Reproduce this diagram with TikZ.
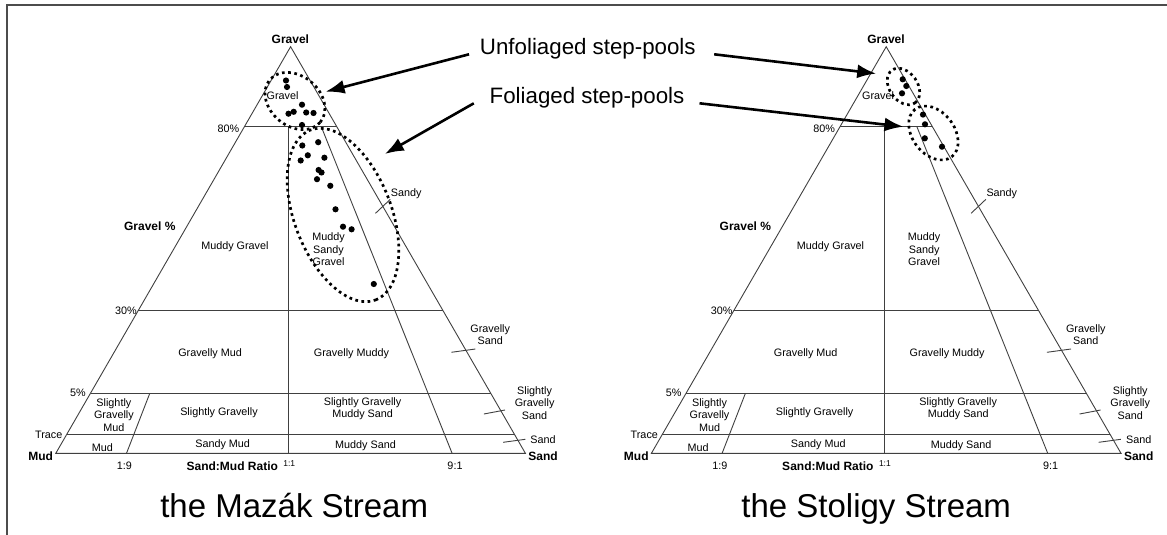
\documentclass[tikz,border=0pt]{standalone}
\usepackage{fontspec}
\setmainfont{Liberation Sans}
\usepackage{tikz}
\usetikzlibrary{arrows.meta}
\usetikzlibrary{shapes.geometric,calc}
\tikzset{>={Latex[width=14pt,length=19pt]}}
\tikzset{
  grid/.style={draw=black!75, line width=0.9pt},
  frame/.style={draw=black!70, line width=2pt},
  zone/.style={font=\fontsize{10.8}{12.5}\selectfont, align=center, inner sep=0pt},
  corner/.style={font=\bfseries\fontsize{12}{13}\selectfont, inner sep=0pt},
  callout/.style={font=\fontsize{22.3}{26}\selectfont, inner sep=0pt, anchor=base},
  stream/.style={font=\fontsize{33}{38}\selectfont, inner sep=0pt, anchor=base},
  cluster/.style={ellipse, draw, line width=2.7pt, dash pattern=on 2.7pt off 3.5pt, inner sep=0pt},
  pointer/.style={->, line width=2.6pt},
}

\begin{document}
\begin{tikzpicture}[x=1pt,y=-1pt]

\useasboundingbox (0,0) rectangle (1167,535);
\draw[frame] (6.5,535) -- (6.5,5) -- (1167,5);

\newcommand\ternary[1]{
\coordinate (#1-apex) at (290.6,46.7);
\coordinate (#1-mud)  at (55.8,453.3);
\coordinate (#1-sand) at (525.4,453.3);
\draw[grid] (#1-mud) -- (#1-apex) -- (#1-sand) -- cycle;
\draw[grid] ($(#1-apex)!.197!(#1-mud)$) -- ($(#1-apex)!.197!(#1-sand)$); %% 80%
\draw[grid] ($(#1-apex)!.649!(#1-mud)$) -- ($(#1-apex)!.649!(#1-sand)$); %% 30%
\draw[grid] ($(#1-apex)!.852!(#1-mud)$) -- ($(#1-apex)!.852!(#1-sand)$); %% 5%
\draw[grid] ($(#1-apex)!.953!(#1-mud)$) -- ($(#1-apex)!.953!(#1-sand)$); %% trace
\draw[grid] (288.5,126.7) -- (288.5,453.3); %% 1:1
\draw[grid] (321.3,126.7) -- (452.1,453.3); %% 9:1
\draw[grid] (149.8,393.3) -- (126.5,453.3); %% 1:9
\draw[grid] (375.5,213.3) -- (390.3,199.3);
\draw[grid] (451.3,352.3) -- (475.4,349);
\draw[grid] (483.9,414)   -- (505,410);
\draw[grid] (503.1,442.3) -- (525.3,439.3);

\node[corner] (#1-top)   at (290.4,39.3)  {Gravel};
\node[corner] (#1-left)  at (40.7,456.7)  {Mud};
\node[corner] (#1-right) at (543.1,456.7) {Sand};
\node[corner] (#1-axis)  at (149.8,226.7) {Gravel \%};
\node[corner] (#1-ratio) at (232.3,466.7) {Sand:Mud Ratio};

\node[zone, anchor=east] (#1-p80)   at (239.5,129)  {80\%};
\node[zone, anchor=east] (#1-p30)   at (137,310.7)  {30\%};
\node[zone, anchor=east] (#1-p5)    at (86,393.3)   {5\%};
\node[zone, anchor=east] (#1-trace) at (62.5,435)   {Trace};
\node[zone] (#1-r19) at (124.3,466) {1:9};
\node[zone, font=\fontsize{8.5}{9}\selectfont] (#1-r11) at (289.3,463.5) {1:1};
\node[zone] (#1-r91) at (455,466)   {9:1};

\node[zone] (#1-g)    at (282.5,95.5)  {Gravel};
\node[zone] (#1-mg)   at (234.9,246.7) {Muddy Gravel};
\node[zone] (#1-msg)  at (328.5,249.5) {Muddy\\Sandy\\Gravel};
\node[zone] (#1-sg)   at (406.2,193.3) {Sandy};
\node[zone] (#1-gm)   at (210.1,353.3) {Gravelly Mud};
\node[zone] (#1-gmd)  at (351.5,353.3) {Gravelly Muddy};
\node[zone] (#1-gs)   at (490.2,334.5) {Gravelly\\Sand};
\node[zone] (#1-sgm)  at (113.9,414.7) {Slightly\\Gravelly\\Mud};
\node[zone] (#1-sgv)  at (219,412.7)   {Slightly Gravelly};
\node[zone] (#1-sgms) at (362.6,408.8) {Slightly Gravelly\\Muddy Sand};
\node[zone] (#1-sgs)  at (534.6,403)   {Slightly\\Gravelly\\Sand};
\node[zone] (#1-m)    at (102.5,447.3) {Mud};
\node[zone] (#1-sm)   at (222.7,445)   {Sandy Mud};
\node[zone] (#1-ms)   at (365.5,445.7) {Muddy Sand};
\node[zone] (#1-s)    at (543.1,440)   {Sand};
}

%% the Mazak Stream
\ternary{M}
\node[cluster, minimum width=66pt, minimum height=50pt, rotate=-40] (M-unfoliaged) at (295,101) {};
\node[cluster, minimum width=182pt, minimum height=97pt, rotate=-69] (M-foliaged) at (343,215) {};
\foreach \x/\y in {286/80.5, 287/87, 302/104.7, 288.5/113.7, 293.7/111.8, 306.2/112.5,
  313.5/113, 302/125, 302.3/145.5, 318.2/142.2, 307.8/155.3, 300.7/160.5, 324.4/157.7,
  318.6/170, 321.5/172.5, 317/179.2, 330.3/185.8, 335.5/209.3, 343/226.7, 351.6/229.3,
  373.8/284}
  \fill (\x,\y) circle (3.1);
\coordinate (M-tipU) at (325.6,91.7);
\coordinate (M-tipF) at (384.8,154);

%% the Stoligy Stream
\begin{scope}[xshift=595.6pt]
\ternary{S}
\end{scope}
\node[cluster, minimum width=40pt, minimum height=28pt, rotate=-55] (S-unfoliaged) at (903.5,86.5) {};
\node[cluster, minimum width=60pt, minimum height=42pt, rotate=-52.5] (S-foliaged) at (933.4,133) {};
\foreach \x/\y in {902.7/79.3, 906.3/86, 902/93.3, 923/114.6, 925/124.3, 924.8/138.3, 942/146.7}
  \fill (\x,\y) circle (3.1);
\coordinate (S-tipU) at (876.2,73.6);
\coordinate (S-tipF) at (903.5,126.7);

\node[callout] (unfoliaged) at (587.8,54.3) {Unfoliaged step-pools};
\node[callout] (foliaged) at (587,103.3) {Foliaged step-pools};
\draw[pointer] ([xshift=-10.7pt]unfoliaged.base west) -- (M-tipU);
\draw[pointer] ([xshift=18.3pt]unfoliaged.base east) -- (S-tipU);
\draw[pointer] ([xshift=-15.7pt]foliaged.base west) -- (M-tipF);
\draw[pointer] ([xshift=15pt]foliaged.base east) -- (S-tipF);

\node[stream] (mazak) at (294.2,517.3) {the Mazák Stream};
\node[stream] (stoligy) at (876.2,517.3) {the Stoligy Stream};

\end{tikzpicture}
\end{document}
